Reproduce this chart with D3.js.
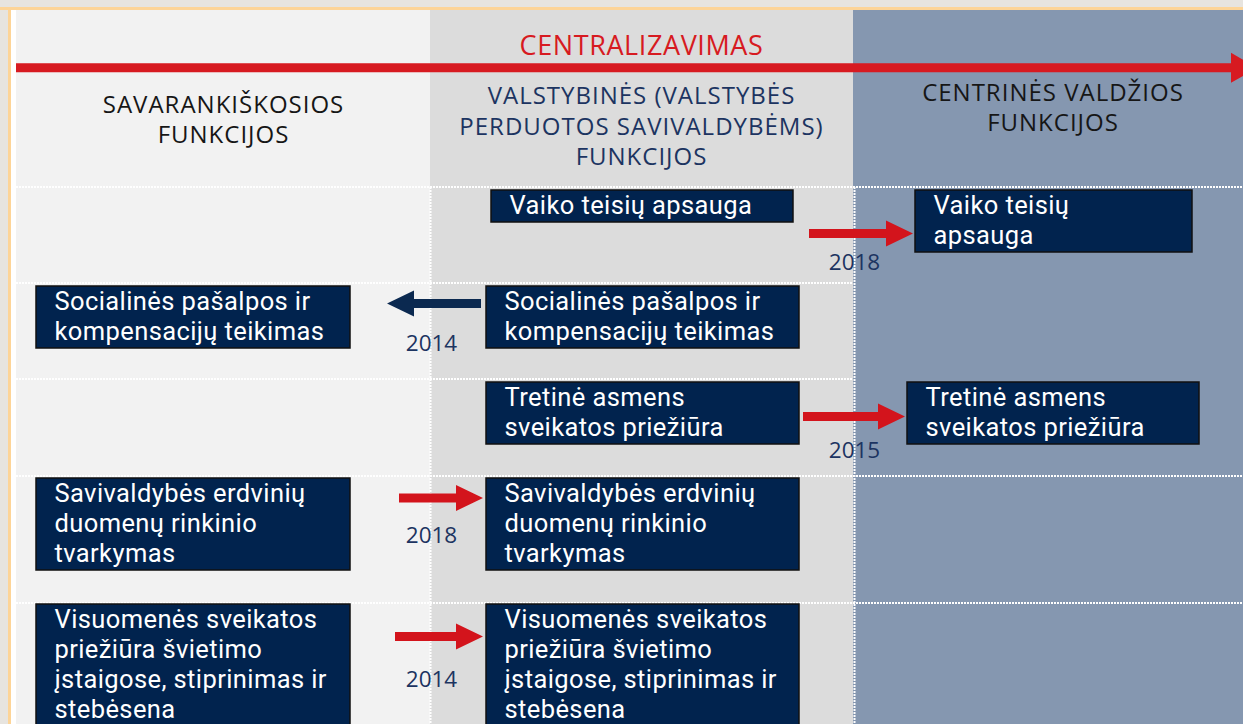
<!DOCTYPE html>
<html lang="lt">
<head>
<meta charset="utf-8">
<script src="https://cdn.jsdelivr.net/npm/d3@7/dist/d3.min.js"></script>
<style>
  body { margin: 0; background: #e7e4df; }
  svg { display: block; font-family: "Open Sans", "Noto Sans", sans-serif; }
</style>
</head>
<body>
<div id="chart"></div>
<script>
// column headers (left = municipal, right = central)
const columnHeaders = [
    ["SAVARANKIŠKOSIOS", "FUNKCIJOS"],
    ["VALSTYBINĖS (VALSTYBĖS", "PERDUOTOS SAVIVALDYBĖMS)", "FUNKCIJOS"],
    ["CENTRINĖS VALDŽIOS", "FUNKCIJOS"]
];
const trendLabel = "CENTRALIZAVIMAS";

// functions that moved between columns, one per row
const fromColumn = [1, 1, 1, 0, 0];
const toColumn = [2, 0, 2, 1, 1];
const years = ["2018", "2014", "2015", "2018", "2014"];
const fromLabels = [
    ["Vaiko teisių apsauga"],
    ["Socialinės pašalpos ir", "kompensacijų teikimas"],
    ["Tretinė asmens", "sveikatos priežiūra"],
    ["Savivaldybės erdvinių", "duomenų rinkinio", "tvarkymas"],
    ["Visuomenės sveikatos", "priežiūra švietimo", "įstaigose, stiprinimas ir", "stebėsena"]
];
const toLabels = [
    ["Vaiko teisių", "apsauga"],
    ["Socialinės pašalpos ir", "kompensacijų teikimas"],
    ["Tretinė asmens", "sveikatos priežiūra"],
    ["Savivaldybės erdvinių", "duomenų rinkinio", "tvarkymas"],
    ["Visuomenės sveikatos", "priežiūra švietimo", "įstaigose, stiprinimas ir", "stebėsena"]
];

const width = 1243, height = 724;

// column edges and row tops
const colX = d3.scaleOrdinal().domain([0, 1, 2, 3]).range([16, 430, 853, 1260]);
const rowY = d3.scaleOrdinal().domain([0, 1, 2, 3, 4, 5]).range([187, 283, 379, 476, 603, 780]);

const colFill = ["#f2f2f2", "#dcdcdc", "#8597b0"];
const headColor = ["#161616", "#1c3461", "#161616"];
const red = "#d3141c";
const navy = "#0b2950";
const boxFill = "#01234e";
const lineH = 30;

// box placement inside a column: [offset from column edge, width]
const boxPlace = [[20, 314], [56, 313], [54, 292]];
const boxOverride = { "0-1": [61, 302], "0-2": [62, 277] };
const boxTop = [3, 3, 3, 2, 1];

// arrow placement per row, relative to the column border and row top
const arrowPlace = [
    { tail: -44, tip: 60, dy: 46.5, yearDy: 82.5 },
    { tail: 51, tip: -43, dy: 20.5, yearDy: 68 },
    { tail: -50, tip: 52, dy: 37.5, yearDy: 79 },
    { tail: -31, tip: 53, dy: 22, yearDy: 67 },
    { tail: -35, tip: 53, dy: 33.5, yearDy: 84 }
];

const svg = d3.select("#chart").append("svg")
    .attr("width", width)
    .attr("height", height);

// frame
svg.append("rect").attr("x", 0).attr("y", 7).attr("width", width).attr("height", 3).attr("fill", "#fdd497");
svg.append("rect").attr("x", 8).attr("y", 7).attr("width", 3).attr("height", height).attr("fill", "#fdd497");
svg.append("rect").attr("x", 11).attr("y", 10).attr("width", 5).attr("height", height).attr("fill", "#ffffff");

// column backgrounds
svg.selectAll(".col")
    .data(colFill)
    .enter().append("rect")
    .attr("class", "col")
    .attr("x", (d, i) => colX(i))
    .attr("y", 10)
    .attr("width", (d, i) => colX(i + 1) - colX(i))
    .attr("height", height - 10)
    .attr("fill", d => d);

// arrow polygon, horizontal
function arrowPath(x1, x2, y, shaft, headLen, headHalf) {
    const dir = x2 > x1 ? 1 : -1;
    const hx = x2 - dir * headLen;
    const p = d3.path();
    p.moveTo(x1, y - shaft / 2);
    p.lineTo(hx, y - shaft / 2);
    p.lineTo(hx, y - headHalf);
    p.lineTo(x2, y);
    p.lineTo(hx, y + headHalf);
    p.lineTo(hx, y + shaft / 2);
    p.lineTo(x1, y + shaft / 2);
    p.closePath();
    return p.toString();
}

// centralisation arrow
svg.append("path")
    .attr("d", arrowPath(colX(0), width + 14, 67.8, 9, 26, 15))
    .attr("fill", "#d71a21");

svg.append("text")
    .attr("x", (colX(1) + colX(2)) / 2)
    .attr("y", 55)
    .attr("text-anchor", "middle")
    .attr("font-size", 27)
    .attr("letter-spacing", 0.6)
    .attr("fill", "#d71a21")
    .text(trendLabel);

// column headers
const headCenter = [223.5, 641.5, 1053];
const headTop = [112.5, 104, 100.5];
columnHeaders.forEach((lines, i) => {
    const t = svg.append("text")
        .attr("text-anchor", "middle")
        .attr("font-size", 24)
        .attr("letter-spacing", 1)
        .attr("fill", headColor[i]);
    t.selectAll("tspan")
        .data(lines)
        .enter().append("tspan")
        .attr("x", headCenter[i])
        .attr("y", (d, j) => headTop[i] + j * 30.5)
        .text(d => d);
});

// dotted grid
const grid = svg.append("g")
    .attr("stroke", "#ffffff")
    .attr("stroke-width", 2)
    .attr("stroke-dasharray", "2,1");

// right column cells are merged for rows 1-2
const mergedRight = [false, true, true, false, false];
grid.selectAll(".hline")
    .data(d3.range(5))
    .enter().append("line")
    .attr("x1", colX(0))
    .attr("x2", d => mergedRight[d] ? colX(2) : width)
    .attr("y1", d => rowY(d))
    .attr("y2", d => rowY(d));

grid.selectAll(".vline")
    .data([1, 2])
    .enter().append("line")
    .attr("x1", d => colX(d) + d - 0.5)
    .attr("x2", d => colX(d) + d - 0.5)
    .attr("y1", rowY(0))
    .attr("y2", height);

// function boxes
function drawBox(row, col, lines) {
    const pl = boxOverride[row + "-" + col] || boxPlace[col];
    const bx = colX(col) + pl[0];
    const by = rowY(row) + boxTop[row];
    const g = svg.append("g");
    g.append("rect")
        .attr("x", bx)
        .attr("y", by)
        .attr("width", pl[1])
        .attr("height", lines.length * lineH + 2)
        .attr("fill", boxFill)
        .attr("stroke", "#111111")
        .attr("stroke-width", 1.5);
    g.append("text")
        .attr("font-family", "Roboto, sans-serif")
        .attr("font-size", 25.5)
        .attr("letter-spacing", 0.4)
        .attr("fill", "#ffffff")
        .selectAll("tspan")
        .data(lines)
        .enter().append("tspan")
        .attr("x", bx + 18.5)
        .attr("y", (d, j) => by + 24.3 + j * lineH)
        .text(d => d);
}

years.forEach((yr, i) => {
    drawBox(i, fromColumn[i], fromLabels[i]);
    drawBox(i, toColumn[i], toLabels[i]);

    const border = colX(Math.max(fromColumn[i], toColumn[i]));
    const a = arrowPlace[i];
    const up = toColumn[i] > fromColumn[i];
    svg.append("path")
        .attr("d", arrowPath(border + a.tail, border + a.tip, rowY(i) + a.dy, 9, 27, 13))
        .attr("fill", up ? red : navy);

    svg.append("text")
        .attr("x", border + 1.5)
        .attr("y", rowY(i) + a.yearDy)
        .attr("text-anchor", "middle")
        .attr("font-size", 22.5)
        .attr("fill", "#1c3461")
        .text(yr);
});
</script>
</body>
</html>
